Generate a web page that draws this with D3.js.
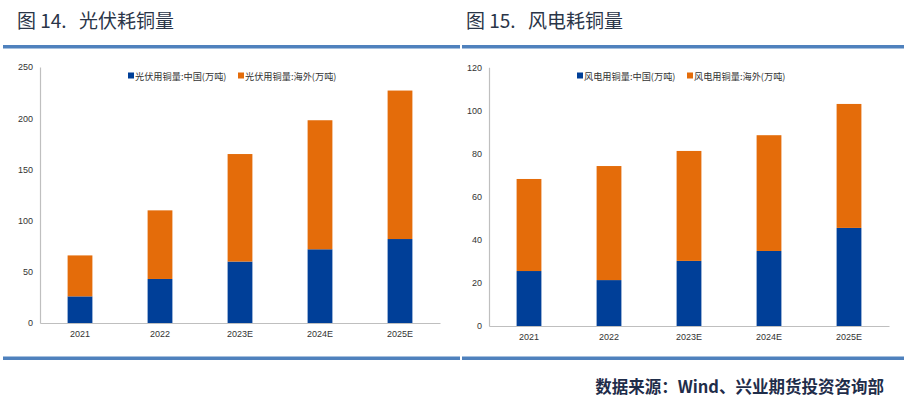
<!DOCTYPE html>
<html>
<head>
<meta charset="utf-8">
<script src="https://cdn.jsdelivr.net/npm/d3@7"></script>
<style>
  body { margin: 0; background: #fff; }
  svg { display: block; font-family: "Microsoft YaHei", "Noto Sans CJK SC", sans-serif; }
</style>
</head>
<body>
<svg id="chart" width="907" height="397"></svg>
<script>
// categories and series
const years = [ '2021', '2022', '2023E', '2024E', '2025E' ];

const pvChina = [ 26, 43, 60, 72, 82 ];
const pvOverseas = [ 40, 67, 105, 126, 145 ];
const pvTicks = [ 0, 50, 100, 150, 200, 250 ];

const windChina = [ 25.5, 21.3, 30.2, 34.8, 45.5 ];
const windOverseas = [ 42.7, 52.9, 51, 53.7, 57.5 ];
const windTicks = [ 0, 20, 40, 60, 80, 100, 120 ];

const BLUE = '#003f98';
const ORANGE = '#e46c0a';
const RULE = '#4f81bd';

const svg = d3.select( '#chart' );

function drawPanel( opt ) {
    const { x0, titleX, titleNo, title, legendA, legendB, china, overseas, ticks, yMax, top, bottom, plotLeft, legendX } = opt;

    // title (number and name placed apart, like the report)
    svg.append( 'text' )
        .attr( 'x', titleX )
        .attr( 'y', 28 )
        .attr( 'font-size', 19 )
        .attr( 'fill', '#2a3548' )
        .text( titleNo );
    svg.append( 'text' )
        .attr( 'x', titleX + 62 )
        .attr( 'y', 28 )
        .attr( 'font-size', 19 )
        .attr( 'fill', '#2a3548' )
        .text( title );

    // blue rules
    svg.append( 'rect' )
        .attr( 'x', x0 ).attr( 'y', 45 )
        .attr( 'width', opt.ruleW ).attr( 'height', 3.5 )
        .attr( 'fill', RULE );

    svg.append( 'rect' )
        .attr( 'x', x0 ).attr( 'y', 356.5 )
        .attr( 'width', opt.ruleW ).attr( 'height', 3.5 )
        .attr( 'fill', RULE );

    const data = years.map( ( y, i ) => ( { year: y, china: china[ i ], overseas: overseas[ i ] } ) );
    const stacked = d3.stack().keys( [ 'china', 'overseas' ] )( data );

    const xScale = d3.scaleBand()
        .domain( years )
        .range( [ plotLeft, plotLeft + 400 ] )
        .paddingInner( 0.69 )
        .paddingOuter( 0.345 );

    const yScale = d3.scaleLinear()
        .domain( [ 0, yMax ] )
        .range( [ bottom, top ] );

    const color = d3.scaleOrdinal()
        .domain( [ 'china', 'overseas' ] )
        .range( [ BLUE, ORANGE ] );

    // bars
    svg.append( 'g' )
        .selectAll( 'g' )
        .data( stacked )
        .enter()
        .append( 'g' )
        .attr( 'fill', d => color( d.key ) )
        .selectAll( 'rect' )
        .data( d => d )
        .enter()
        .append( 'rect' )
        .attr( 'x', d => xScale( d.data.year ) )
        .attr( 'y', d => yScale( d[ 1 ] ) )
        .attr( 'width', xScale.bandwidth() )
        .attr( 'height', d => yScale( d[ 0 ] ) - yScale( d[ 1 ] ) );

    // y axis
    const yAxis = d3.axisLeft( yScale )
        .tickValues( ticks )
        .tickSize( 0 )
        .tickPadding( 7 );

    const yG = svg.append( 'g' )
        .attr( 'transform', `translate(${plotLeft}, 0)` )
        .call( yAxis );
    yG.select( '.domain' ).attr( 'stroke', '#bfbfbf' ).attr( 'stroke-width', 1.2 );
    yG.selectAll( 'text' ).attr( 'font-size', 9 ).attr( 'fill', '#333' )
        .attr( 'font-family', '"Liberation Sans", Arial, sans-serif' );

    // x axis
    const xAxis = d3.axisBottom( xScale ).tickSize( 0 ).tickPadding( 8 );
    const xG = svg.append( 'g' )
        .attr( 'transform', `translate(0, ${bottom})` )
        .call( xAxis );
    xG.select( '.domain' ).attr( 'stroke', '#bfbfbf' ).attr( 'stroke-width', 1.2 );
    xG.selectAll( 'text' ).attr( 'font-size', 9 ).attr( 'fill', '#333' )
        .attr( 'font-family', '"Liberation Sans", Arial, sans-serif' );

    // legend
    const lg = svg.append( 'g' ).attr( 'transform', `translate(${legendX}, 76)` );
    lg.append( 'rect' ).attr( 'x', 0 ).attr( 'y', -3.5 ).attr( 'width', 6 ).attr( 'height', 6 ).attr( 'fill', BLUE );
    lg.append( 'text' ).attr( 'x', 7 ).attr( 'y', 3.5 ).attr( 'font-size', 9.2 ).attr( 'fill', '#333' ).text( legendA );
    lg.append( 'rect' ).attr( 'x', opt.legendGap ).attr( 'y', -3.5 ).attr( 'width', 6 ).attr( 'height', 6 ).attr( 'fill', ORANGE );
    lg.append( 'text' ).attr( 'x', opt.legendGap + 7 ).attr( 'y', 3.5 ).attr( 'font-size', 9.2 ).attr( 'fill', '#333' ).text( legendB );
}

drawPanel( {
    x0: 3, ruleW: 457, titleX: 17,
    titleNo: '图 14.',
    title: '光伏耗铜量',
    legendA: '光伏用铜量:中国(万吨)',
    legendB: '光伏用铜量:海外(万吨)',
    china: pvChina, overseas: pvOverseas,
    ticks: pvTicks, yMax: 250,
    top: 67, bottom: 323, plotLeft: 40,
    legendX: 128, legendGap: 110
} );

drawPanel( {
    x0: 462, ruleW: 442, titleX: 466,
    titleNo: '图 15.',
    title: '风电耗铜量',
    legendA: '风电用铜量:中国(万吨)',
    legendB: '风电用铜量:海外(万吨)',
    china: windChina, overseas: windOverseas,
    ticks: windTicks, yMax: 120,
    top: 67.3, bottom: 326, plotLeft: 489,
    legendX: 577, legendGap: 110
} );

// source
svg.append( 'text' )
    .attr( 'x', 884 )
    .attr( 'y', 393 )
    .attr( 'text-anchor', 'end' )
    .attr( 'font-size', 16.5 )
    .attr( 'font-weight', 'bold' )
    .attr( 'fill', '#1f2d4a' )
    .text( '数据来源：Wind、兴业期货投资咨询部' );
</script>
</body>
</html>
